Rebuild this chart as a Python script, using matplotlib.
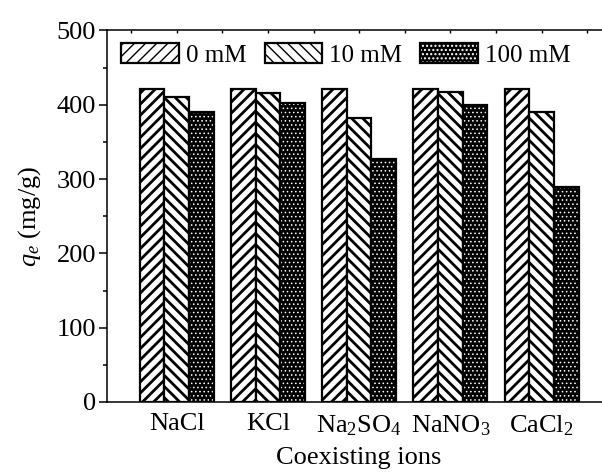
import numpy as np
import matplotlib
matplotlib.use("Agg")
import matplotlib.pyplot as plt
from matplotlib.patches import Patch
from matplotlib.legend_handler import HandlerTuple
from matplotlib.ticker import MultipleLocator

plt.rcParams["font.family"] = "Liberation Serif"
plt.rcParams["mathtext.fontset"] = "custom"
plt.rcParams["mathtext.rm"] = "Liberation Serif"
plt.rcParams["mathtext.it"] = "Liberation Serif:italic"

ions = ["NaCl", "KCl", "Na$_2$SO$_4$", "NaNO$_3$", "CaCl$_2$"]
series = ["0 mM", "10 mM", "100 mM"]
q_0mM = [421, 421, 421, 421, 421]
q_10mM = [410, 416, 382, 417, 390]
q_100mM = [390, 402, 327, 400, 289]

fig = plt.figure(figsize=(6.02, 4.74), dpi=100)
ax = fig.add_axes([0.1782, 0.1519, 0.8368, 0.7841])

x = np.arange(len(ions))
w = 0.27
edge_lw = 1.6

# striped bars: thick hatch lines
with plt.rc_context({"hatch.linewidth": 2.0}):
    ax.bar(x - w, q_0mM, w, facecolor="white", edgecolor="black",
           hatch="///", linewidth=edge_lw, zorder=2)
    ax.bar(x, q_10mM, w, facecolor="white", edgecolor="black",
           hatch="\\\\\\", linewidth=edge_lw, zorder=2)
    h1 = Patch(facecolor="white", edgecolor="black", hatch="///", linewidth=edge_lw)
    h2 = Patch(facecolor="white", edgecolor="black", hatch="\\\\\\", linewidth=edge_lw)

# black bars with small white dots, outline drawn on top
with plt.rc_context({"hatch.linewidth": 0.6}):
    ax.bar(x + w, q_100mM, w, facecolor="black", edgecolor="white",
           hatch="....", linewidth=0, zorder=2)
    h3a = Patch(facecolor="black", edgecolor="white", hatch="....", linewidth=0)
ax.bar(x + w, q_100mM, w, fill=False, edgecolor="black",
       linewidth=edge_lw, zorder=3)
h3b = Patch(fill=False, edgecolor="black", linewidth=edge_lw)

ax.legend([h1, h2, (h3a, h3b)], series, ncol=3, frameon=False,
          loc="center left", bbox_to_anchor=(0.028, 0.934),
          borderpad=0, borderaxespad=0, fontsize=18,
          handlelength=2.3, handleheight=0.85, handletextpad=0.28,
          columnspacing=0.72,
          handler_map={tuple: HandlerTuple(ndivide=1)})

ax.set_xlim(-0.76, 4.76)
ax.set_ylim(0, 500)
ax.set_xticks(x)
ax.set_xticklabels(ions, fontsize=19)
ax.yaxis.set_major_locator(MultipleLocator(100))
ax.yaxis.set_minor_locator(MultipleLocator(50))
ax.xaxis.set_minor_locator(MultipleLocator(0.5))
ax.tick_params(axis="y", which="major", direction="out", length=6,
               width=1.1, labelsize=19, right=False, pad=2)
ax.tick_params(axis="y", which="minor", direction="out", length=3,
               width=1.1, right=False)
ax.tick_params(axis="x", which="both", bottom=False, top=True,
               direction="in", length=2.5, width=1.0, pad=8)

for s in ax.spines.values():
    s.set_linewidth(1.1)

ax.set_xlabel("Coexisting ions", fontsize=19, labelpad=7)
ax.set_ylabel("$q_e$ (mg/g)", fontsize=19, labelpad=10)

fig.savefig("out.png", dpi=100)
